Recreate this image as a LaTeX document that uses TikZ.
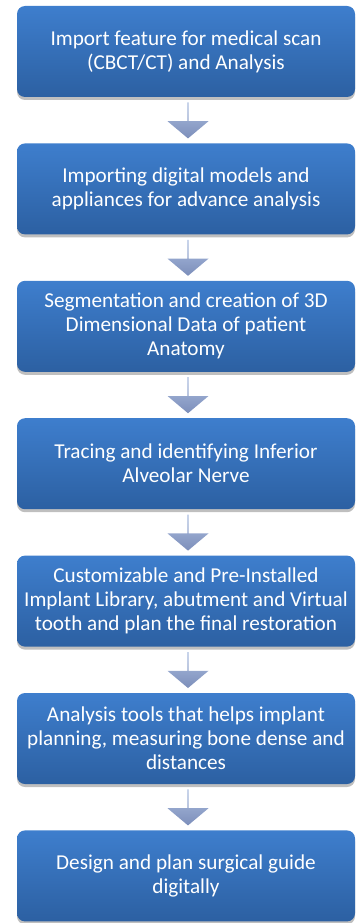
\documentclass[tikz,border=0pt]{standalone}
\usepackage{fontspec}
\setmainfont{Carlito}
\usetikzlibrary{shapes.arrows,positioning,calc,shadows}
\definecolor{steptop}{RGB}{62,126,205}
\definecolor{stepbottom}{RGB}{44,96,162}
\definecolor{arrowtop}{RGB}{172,190,224}
\definecolor{arrowbottom}{RGB}{124,142,186}

\begin{document}
\begin{tikzpicture}[
    x=1pt, y=1pt,
    node distance=46pt,
    stepbox/.style={rectangle, rounded corners=8pt, top color=steptop, bottom color=stepbottom,
                    draw=none, minimum width=338pt, minimum height=91pt, align=center,
                    text=white, font=\fontsize{21.2}{24}\selectfont, inner sep=2pt,
                    drop shadow={shadow xshift=0pt, shadow yshift=-3pt, opacity=0.25, fill=black}},
    downarrow/.style={single arrow, shape border rotate=270, top color=arrowtop, bottom color=arrowbottom,
                      draw=none, minimum width=41pt, minimum height=36pt,
                      single arrow head extend=7.5pt, single arrow tip angle=100, inner sep=0pt}
]
    \useasboundingbox (0,0) rectangle (357,-923);
    \node[stepbox] (s1) at (186,-51.5) {Import feature for medical scan\\(CBCT/CT) and Analysis};
    \node[stepbox, below=of s1] (s2) {Importing digital models and\\appliances for advance analysis};
    \node[stepbox, below=of s2] (s3) {Segmentation and creation of 3D\\Dimensional Data of patient\\Anatomy};
    \node[stepbox, below=of s3] (s4) {Tracing and identifying Inferior\\Alveolar Nerve};
    \node[stepbox, below=of s4] (s5) {Customizable and Pre-Installed\\Implant Library, abutment and Virtual\\tooth and plan the final restoration};
    \node[stepbox, below=of s5] (s6) {Analysis tools that helps implant\\planning, measuring bone dense and\\distances};
    \node[stepbox, below=of s6] (s7) {Design and plan surgical guide\\digitally};
    % block arrows between the steps
    \foreach \a/\b in {s1/s2, s2/s3, s3/s4, s4/s5, s5/s6, s6/s7}
        \node[downarrow] (\a-\b) at ($(\a.south)!0.5!(\b.north)+(2,0)$) {};
\end{tikzpicture}
\end{document}
